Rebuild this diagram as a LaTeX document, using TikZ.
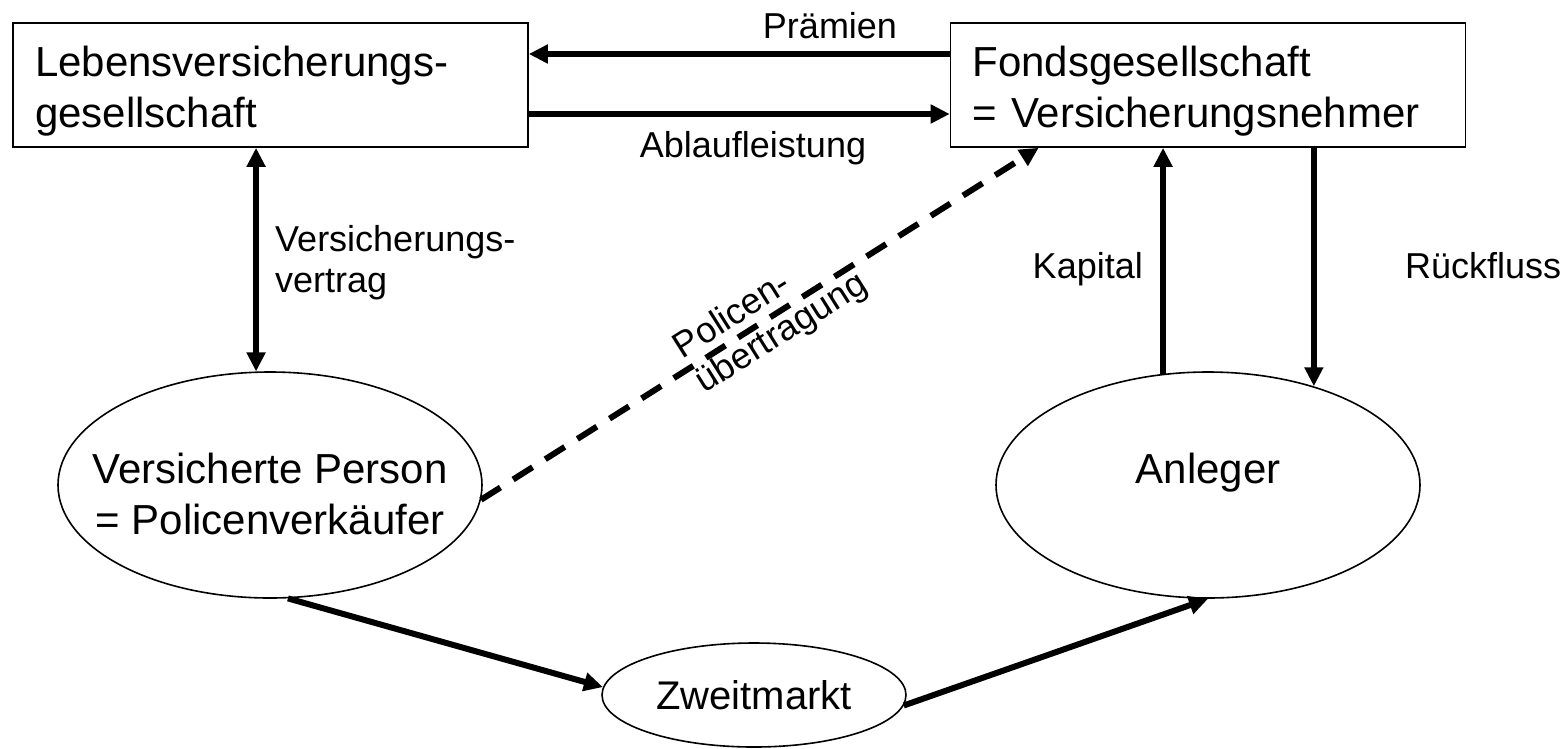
\documentclass[tikz,border=0pt]{standalone}
\usepackage{fontspec}
\setmainfont{Liberation Sans}
\usetikzlibrary{arrows.meta,shapes.geometric}
\newcommand{\shapefont}{\fontsize{42}{51}\selectfont}
\newcommand{\flowfont}{\fontsize{36}{41}\selectfont}
\begin{document}
\begin{tikzpicture}[x=1pt, y=-1pt, >={Triangle[length=19pt,width=18pt]},
        firm/.style={draw, line width=1.6pt, text width=471pt, inner xsep=22pt, inner ysep=0pt,
            minimum height=124pt, align=left, font=\shapefont, text height=31pt, text depth=49pt},
        party/.style={draw, ellipse, line width=1.6pt, inner sep=0pt,
            minimum width=424pt, minimum height=226pt},
        partytext/.style={font=\shapefont, align=center, inner sep=0pt, text height=31pt, text depth=35pt},
        flow/.style={line width=6pt},
        flowtext/.style={font=\flowfont, inner sep=0pt}]
    \useasboundingbox (0,0) rectangle (1568,748);
    % Gesellschaften
    \node[firm] (leben) at (270.5,85) {Lebensversicherungs-\\gesellschaft};
    \node[firm] (fonds) at (1208,85) {Fondsgesellschaft\\= Versicherungsnehmer};
    % Personen und Markt
    \node[party, label={[partytext, text height=100pt, text depth=2pt]center:{Versicherte Person\\= Policenverkäufer}}] (pers) at (270,485) {};
    \node[party, label={[partytext]center:Anleger}] (anleger) at (1208,485) {};
    \node[party, minimum width=304pt, minimum height=104pt, font=\fontsize{40}{48}\selectfont] (zweit) at (754,695) {Zweitmarkt};
    % Zahlungen
    \draw[flow,->] ([yshift=31pt]fonds.west) -- ([yshift=31pt]leben.east);
    \draw[flow,->] ([yshift=-29pt]leben.east) -- ([yshift=-29pt]fonds.west);
    \draw[flow,<->] (leben.south -| pers.97) -- (pers.97);
    \draw[flow,->] (anleger.112) -- (anleger.112 |- fonds.south);
    \draw[flow,->] (anleger.43 |- fonds.south) -- (anleger.43);
    \draw[flow,->] (pers.-81) -- (zweit.177);
    \draw[flow,->] (zweit.-4) -- (anleger.south);
    \draw[flow,->,dash pattern=on 23pt off 15pt] (pers.-4) -- ([xshift=89pt]fonds.south west)
        node[sloped, pos=0.52, align=left, font=\flowfont, inner sep=0pt] (police) {Policen-\\übertragung};
    % Beschriftungen
    \node[flowtext, anchor=base] (praemien) at (830,38) {Prämien};
    \node[flowtext, anchor=base] (ablauf) at (753,157) {Ablaufleistung};
    \node[flowtext, anchor=west, align=left] (vertrag) at (275,263) {Versicherungs-\\vertrag};
    \node[flowtext, anchor=base east] (kapital) at (1143,278) {Kapital};
    \node[flowtext, anchor=base west] (rueck) at (1405,278) {Rückfluss};
\end{tikzpicture}
\end{document}
